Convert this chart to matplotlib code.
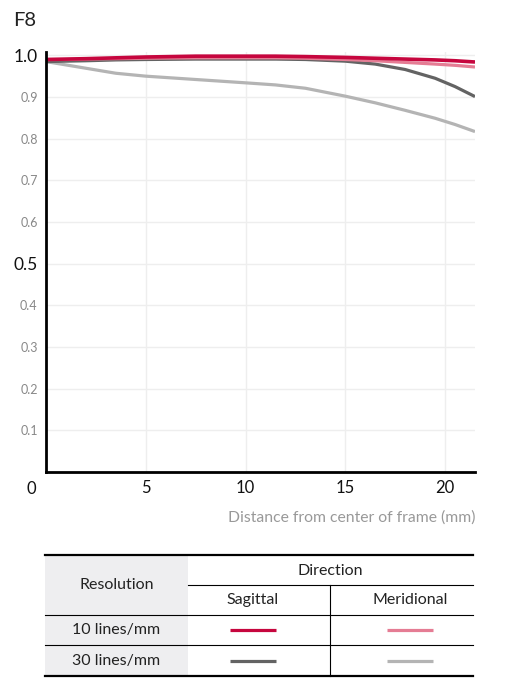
import matplotlib
matplotlib.use('Agg')
import matplotlib.pyplot as plt
from matplotlib.patches import Rectangle

plt.rcParams['font.family'] = ['Lato', 'DejaVu Sans']

# MTF data (distance in mm, contrast)
distance = [0, 1, 2, 3.5, 5, 7.5, 10, 11.5, 13, 15, 16.5, 18, 19.5, 20.5, 21.5]
sag_10 = [0.990, 0.991, 0.992, 0.994, 0.996, 0.998, 0.998, 0.998, 0.997, 0.995, 0.993, 0.991, 0.989, 0.987, 0.984]
mer_10 = [0.990, 0.990, 0.991, 0.992, 0.993, 0.994, 0.994, 0.994, 0.993, 0.990, 0.987, 0.983, 0.979, 0.976, 0.972]
sag_30 = [0.985, 0.986, 0.987, 0.989, 0.990, 0.991, 0.991, 0.991, 0.990, 0.986, 0.979, 0.966, 0.945, 0.925, 0.901]
mer_30 = [0.985, 0.977, 0.969, 0.957, 0.950, 0.942, 0.934, 0.929, 0.921, 0.902, 0.886, 0.868, 0.849, 0.834, 0.817]

x_ticks = [5, 10, 15, 20]
y_ticks = [0.1, 0.2, 0.3, 0.4, 0.5, 0.6, 0.7, 0.8, 0.9, 1.0]
big_y = [0.5, 1.0]

c_sag10 = '#c6063e'
c_mer10 = '#e57c94'
c_sag30 = '#636363'
c_mer30 = '#b4b4b4'

W, H = 526, 694
fig = plt.figure(figsize=(W / 100, H / 100), dpi=100)
ax = fig.add_axes([46 / W, 1 - 472 / H, (475 - 46) / W, (472 - 52) / H])

ax.plot(distance, mer_30, color=c_mer30, lw=2.3, solid_capstyle='butt')
ax.plot(distance, sag_30, color=c_sag30, lw=2.3, solid_capstyle='butt')
ax.plot(distance, mer_10, color=c_mer10, lw=2.3, solid_capstyle='butt')
ax.plot(distance, sag_10, color=c_sag10, lw=2.6, solid_capstyle='butt')

ax.set_xlim(0, 21.5)
ax.set_ylim(0, 1.008)
ax.set_xticks(x_ticks)
ax.set_yticks(y_ticks)
ax.set_yticklabels(['%.1f' % v for v in y_ticks])
ax.grid(True, color='#eeeeee', lw=1)
ax.set_axisbelow(True)
for s in ['top', 'right']:
    ax.spines[s].set_visible(False)
for s in ['left', 'bottom']:
    ax.spines[s].set_linewidth(2)
    ax.spines[s].set_color('black')
ax.tick_params(length=0)
ax.tick_params(axis='x', labelsize=12, pad=6, labelcolor='#111111')
ax.tick_params(axis='y', pad=6)
for lab, v in zip(ax.get_yticklabels(), y_ticks):
    if v in big_y:
        lab.set_fontsize(12.5)
        lab.set_color('#111111')
    else:
        lab.set_fontsize(9)
        lab.set_color('#888888')
ax.text(-0.75, -0.022, '0', ha='center', va='top', fontsize=12, color='#111111')

ax.set_xlabel('Distance from center of frame (mm)', fontsize=11.3, color='#999999', loc='right', labelpad=10)
fig.text(13 / W, 1 - 20 / H, 'F8', fontsize=14.5, color='#222222', va='center', ha='left')

# legend table, drawn in pixel space
tb = fig.add_axes([0, 0, 1, 1])
tb.set_xlim(0, W)
tb.set_ylim(H, 0)
tb.axis('off')
tb.patch.set_alpha(0)

x0, x1, x2, x3 = 45, 188, 330, 473
r0, r1, r2, r3, r4 = 555, 585, 615, 645, 676
sag_c, mer_c = 253, 410
tb.add_patch(Rectangle((x0, r0), x1 - x0, r4 - r0, color='#eeeef0', lw=0))
tb.plot([x0, x3], [r0, r0], color='black', lw=1.6)
tb.plot([x0, x3], [r4, r4], color='black', lw=1.6)
tb.plot([x1, x3], [r1, r1], color='black', lw=0.8)
tb.plot([x0, x3], [r2, r2], color='black', lw=0.8)
tb.plot([x0, x3], [r3, r3], color='black', lw=0.8)
tb.plot([x2, x2], [r1, r4], color='black', lw=0.8)

fs = 11.5
tb.text((x0 + x1) / 2, (r0 + r2) / 2, 'Resolution', ha='center', va='center', fontsize=fs, color='#222222')
tb.text((x1 + x3) / 2, (r0 + r1) / 2 + 1, 'Direction', ha='center', va='center', fontsize=fs, color='#222222')
tb.text(sag_c, (r1 + r2) / 2, 'Sagittal', ha='center', va='center', fontsize=fs, color='#222222')
tb.text(mer_c, (r1 + r2) / 2, 'Meridional', ha='center', va='center', fontsize=fs, color='#222222')
tb.text((x0 + x1) / 2, (r2 + r3) / 2, '10 lines/mm', ha='center', va='center', fontsize=fs, color='#222222')
tb.text((x0 + x1) / 2, (r3 + r4) / 2, '30 lines/mm', ha='center', va='center', fontsize=fs, color='#222222')

rows = [((r2 + r3) / 2, c_sag10, c_mer10), ((r3 + r4) / 2, c_sag30, c_mer30)]
for yc, cs, cm in rows:
    tb.plot([sag_c - 23, sag_c + 23], [yc, yc], color=cs, lw=2.3, solid_capstyle='butt')
    tb.plot([mer_c - 23, mer_c + 23], [yc, yc], color=cm, lw=2.3, solid_capstyle='butt')

fig.savefig('out.png', dpi=100, facecolor='white')
